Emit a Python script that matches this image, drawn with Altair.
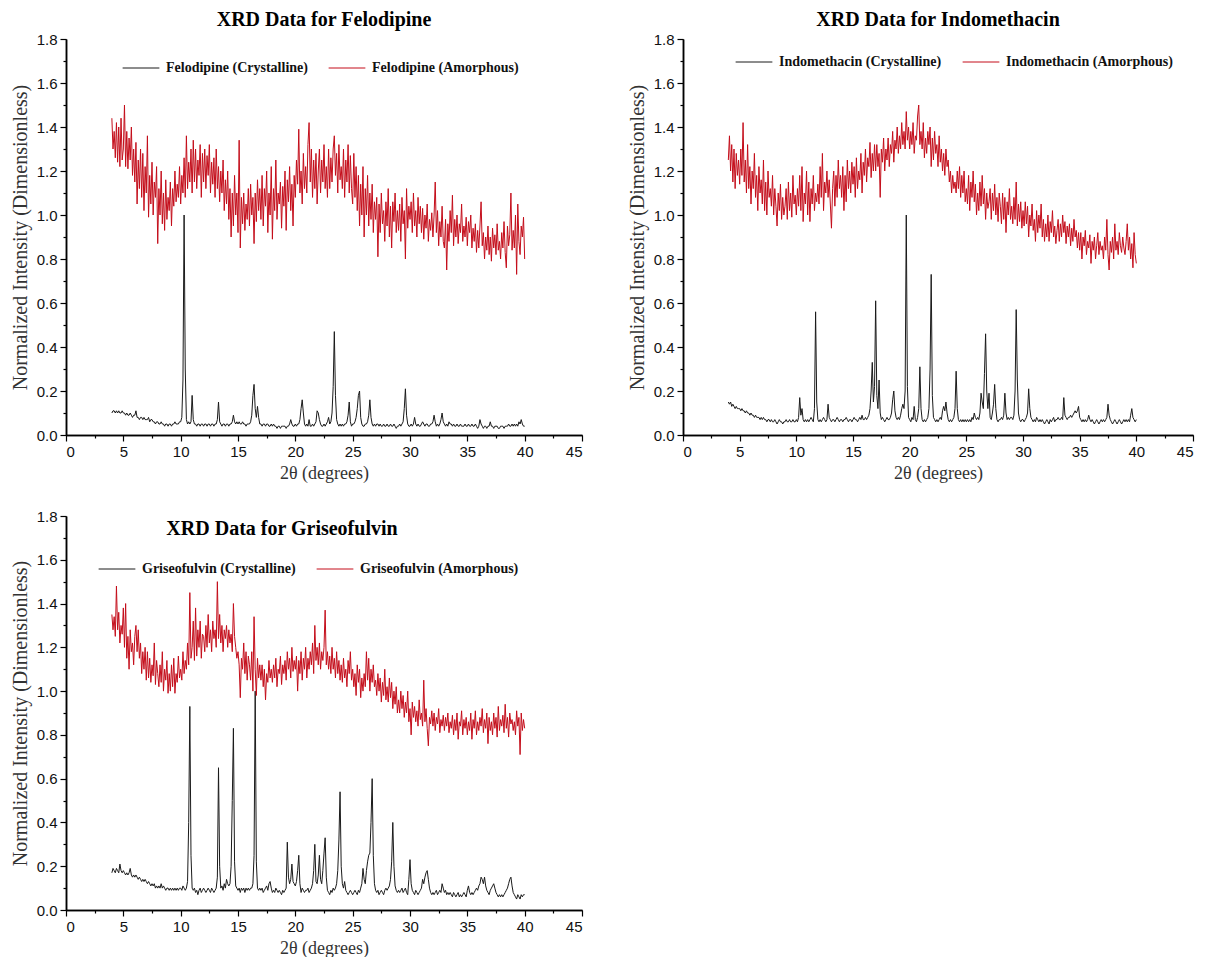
import altair as alt
import pandas as pd

# 2-theta sampling of the digitised patterns: 4.0 .. 40.0 degrees, step 0.1
X_START = 4.0
X_STEP = 0.1

felodipine_cryst = [
    0.10, 0.11, 0.11, 0.10, 0.11, 0.10, 0.11, 0.10, 0.10, 0.11,
    0.10, 0.10, 0.09, 0.10, 0.09, 0.09, 0.10, 0.09, 0.08, 0.09,
    0.09, 0.11, 0.08, 0.08, 0.07, 0.08, 0.08, 0.07, 0.08, 0.07,
    0.07, 0.07, 0.08, 0.06, 0.07, 0.07, 0.06, 0.06, 0.05, 0.06,
    0.06, 0.05, 0.05, 0.06, 0.05, 0.05, 0.04, 0.05, 0.05, 0.04,
    0.05, 0.05, 0.04, 0.05, 0.05, 0.06, 0.05, 0.05, 0.05, 0.06,
    0.06, 0.08, 0.25, 1.00, 0.30, 0.07, 0.05, 0.06, 0.05, 0.06,
    0.18, 0.07, 0.05, 0.05, 0.04, 0.05, 0.05, 0.04, 0.05, 0.05,
    0.04, 0.05, 0.05, 0.04, 0.05, 0.05, 0.04, 0.05, 0.05, 0.04,
    0.05, 0.05, 0.07, 0.15, 0.06, 0.05, 0.04, 0.05, 0.05, 0.04,
    0.05, 0.05, 0.04, 0.05, 0.05, 0.06, 0.09, 0.06, 0.05, 0.06,
    0.05, 0.06, 0.05, 0.05, 0.06, 0.05, 0.05, 0.04, 0.05, 0.05,
    0.05, 0.06, 0.09, 0.18, 0.23, 0.12, 0.08, 0.13, 0.08, 0.05,
    0.05, 0.04, 0.05, 0.05, 0.04, 0.05, 0.05, 0.04, 0.04, 0.05,
    0.04, 0.05, 0.04, 0.04, 0.03, 0.04, 0.04, 0.03, 0.04, 0.04,
    0.04, 0.04, 0.03, 0.04, 0.04, 0.05, 0.07, 0.05, 0.04, 0.04,
    0.05, 0.04, 0.05, 0.05, 0.07, 0.12, 0.16, 0.10, 0.05, 0.04,
    0.05, 0.04, 0.07, 0.04, 0.04, 0.05, 0.04, 0.05, 0.06, 0.11,
    0.10, 0.07, 0.05, 0.04, 0.04, 0.05, 0.04, 0.05, 0.06, 0.08,
    0.05, 0.06, 0.10, 0.22, 0.47, 0.18, 0.07, 0.05, 0.04, 0.05,
    0.04, 0.05, 0.04, 0.05, 0.05, 0.06, 0.09, 0.15, 0.06, 0.04,
    0.05, 0.05, 0.06, 0.08, 0.12, 0.18, 0.20, 0.08, 0.05, 0.04,
    0.04, 0.05, 0.05, 0.06, 0.09, 0.16, 0.08, 0.05, 0.04, 0.05,
    0.04, 0.05, 0.05, 0.04, 0.05, 0.04, 0.04, 0.05, 0.04, 0.04,
    0.05, 0.04, 0.04, 0.05, 0.04, 0.04, 0.05, 0.04, 0.03, 0.04,
    0.04, 0.05, 0.04, 0.05, 0.06, 0.12, 0.21, 0.09, 0.05, 0.04,
    0.04, 0.05, 0.04, 0.05, 0.08, 0.05, 0.04, 0.05, 0.04, 0.04,
    0.05, 0.06, 0.05, 0.04, 0.05, 0.05, 0.04, 0.04, 0.05, 0.05,
    0.06, 0.09, 0.06, 0.04, 0.05, 0.04, 0.05, 0.07, 0.10, 0.06,
    0.05, 0.04, 0.05, 0.04, 0.06, 0.05, 0.05, 0.04, 0.05, 0.04,
    0.04, 0.05, 0.04, 0.04, 0.05, 0.04, 0.04, 0.04, 0.05, 0.04,
    0.04, 0.05, 0.04, 0.04, 0.05, 0.04, 0.04, 0.05, 0.04, 0.03,
    0.04, 0.07, 0.05, 0.04, 0.03, 0.04, 0.04, 0.03, 0.04, 0.04,
    0.06, 0.04, 0.04, 0.03, 0.04, 0.04, 0.04, 0.03, 0.03, 0.04,
    0.04, 0.04, 0.03, 0.04, 0.04, 0.04, 0.05, 0.04, 0.04, 0.05,
    0.04, 0.05, 0.04, 0.05, 0.04, 0.06, 0.05, 0.07, 0.05, 0.04,
    0.04,
]

felodipine_amor = [
    1.44, 1.30, 1.38, 1.26, 1.42, 1.24, 1.40, 1.22, 1.44, 1.25,
    1.30, 1.50, 1.22, 1.38, 1.21, 1.35, 1.25, 1.40, 1.18, 1.30,
    1.15, 1.33, 1.05, 1.25, 1.12, 1.30, 1.08, 1.28, 1.02, 1.22,
    1.10, 1.36, 0.99, 1.18, 1.05, 1.24, 1.00, 1.15, 1.08, 1.22,
    0.87, 1.12, 1.00, 1.20, 0.96, 1.10, 0.93, 1.16, 0.98, 1.08,
    1.02, 1.15, 0.95, 1.12, 1.04, 1.20, 1.06, 1.14, 1.08, 1.22,
    1.05, 1.18, 1.10, 1.26, 1.08, 1.36, 1.12, 1.24, 1.15, 1.30,
    1.10, 1.34, 1.15, 1.30, 1.12, 1.25, 1.18, 1.32, 1.08, 1.28,
    1.15, 1.30, 1.12, 1.27, 1.18, 1.32, 1.10, 1.24, 1.14, 1.26,
    1.08, 1.30, 1.12, 1.22, 1.06, 1.20, 1.10, 1.25, 1.02, 1.16,
    1.05, 1.20, 0.98, 1.12, 0.90, 1.10, 0.95, 1.18, 1.00, 1.10,
    0.92, 1.34, 0.85, 1.08, 0.96, 1.10, 0.93, 1.05, 0.98, 1.12,
    0.95, 1.14, 1.00, 1.08, 0.87, 1.10, 0.97, 1.16, 1.02, 1.12,
    0.98, 1.18, 0.95, 1.12, 1.04, 1.20, 0.92, 1.10, 1.00, 1.22,
    0.89, 1.12, 1.02, 1.25, 0.98, 1.10, 1.05, 1.15, 0.94, 1.13,
    1.04, 1.20, 0.93, 1.16, 1.06, 1.22, 1.02, 1.14, 0.95, 1.18,
    1.08, 1.25, 1.14, 1.39, 1.10, 1.20, 1.05, 1.28, 1.12, 1.22,
    1.10, 1.32, 1.42, 1.15, 1.30, 1.08, 1.25, 1.12, 1.28, 1.05,
    1.20, 1.30, 1.10, 1.25, 1.15, 1.32, 1.12, 1.22, 1.08, 1.30,
    1.12, 1.26, 1.15, 1.30, 1.36, 1.18, 1.28, 1.10, 1.32, 1.16,
    1.22, 1.12, 1.30, 1.08, 1.25, 1.15, 1.32, 1.10, 1.27, 1.12,
    1.05, 1.28, 1.08, 1.22, 1.02, 1.18, 0.95, 1.14, 1.00, 1.22,
    0.90, 1.12, 1.00, 1.18, 0.95, 1.10, 0.98, 1.14, 0.92, 1.06,
    0.98, 1.08, 0.81, 1.05, 0.92, 1.10, 0.96, 1.02, 0.88, 1.06,
    0.95, 1.12, 0.90, 1.04, 0.85, 1.06, 0.97, 1.10, 0.92, 1.02,
    0.93, 1.05, 0.88, 1.08, 0.96, 1.02, 0.80, 1.12, 0.94, 1.04,
    0.98, 1.06, 0.92, 1.10, 0.95, 1.02, 0.90, 1.08, 0.96, 1.04,
    0.92, 1.03, 0.89, 1.00, 0.94, 1.05, 0.88, 0.98, 0.93, 1.01,
    0.90, 1.00, 1.15, 0.92, 1.02, 0.86, 0.97, 0.90, 1.04, 0.88,
    0.85, 0.98, 0.75, 0.96, 0.88, 1.02, 0.92, 1.09, 0.86, 0.98,
    0.90, 1.00, 0.87, 0.96, 0.92, 1.05, 0.88, 0.95, 0.90, 0.99,
    0.86, 0.97, 0.92, 1.00, 0.85, 0.94, 0.88, 0.96, 0.83, 0.93,
    0.85, 0.95, 1.06, 0.86, 0.92, 0.80, 0.90, 0.84, 0.95, 0.82,
    0.90, 0.79, 0.94, 0.85, 0.91, 0.82, 0.96, 0.84, 0.88, 0.80,
    0.92, 0.85, 0.97, 0.83, 0.76, 0.95, 0.86, 0.91, 1.10, 0.84,
    0.93, 0.85, 1.00, 0.73, 1.05, 0.88, 0.82, 0.95, 0.90, 0.99,
    0.80,
]

indomethacin_cryst = [
    0.15, 0.14, 0.15, 0.13, 0.14, 0.13, 0.12, 0.13, 0.12, 0.12,
    0.12, 0.11, 0.12, 0.11, 0.11, 0.10, 0.11, 0.10, 0.10, 0.09,
    0.10, 0.09, 0.09, 0.08, 0.09, 0.08, 0.08, 0.08, 0.07, 0.08,
    0.07, 0.08, 0.07, 0.07, 0.06, 0.07, 0.07, 0.06, 0.07, 0.06,
    0.06, 0.07, 0.06, 0.05, 0.06, 0.07, 0.06, 0.06, 0.05, 0.06,
    0.06, 0.07, 0.06, 0.06, 0.07, 0.06, 0.06, 0.07, 0.06, 0.06,
    0.07, 0.06, 0.08, 0.17, 0.09, 0.12, 0.07, 0.06, 0.07, 0.06,
    0.07, 0.06, 0.07, 0.08, 0.07, 0.06, 0.12, 0.56, 0.15, 0.07,
    0.06, 0.07, 0.06, 0.07, 0.08, 0.07, 0.06, 0.07, 0.14, 0.08,
    0.07, 0.06, 0.07, 0.07, 0.06, 0.07, 0.08, 0.07, 0.06, 0.07,
    0.07, 0.06, 0.07, 0.07, 0.08, 0.07, 0.06, 0.07, 0.07, 0.06,
    0.07, 0.08, 0.07, 0.07, 0.06, 0.07, 0.08, 0.07, 0.09, 0.07,
    0.07, 0.08, 0.07, 0.08, 0.09, 0.12, 0.20, 0.33, 0.15, 0.22,
    0.61, 0.18, 0.12, 0.25, 0.10, 0.07, 0.08, 0.07, 0.06, 0.07,
    0.08, 0.07, 0.07, 0.08, 0.10, 0.16, 0.20, 0.11, 0.08, 0.07,
    0.08, 0.07, 0.09, 0.12, 0.14, 0.12, 0.20, 1.00, 0.22, 0.08,
    0.07, 0.06, 0.08, 0.07, 0.13, 0.07, 0.06, 0.08, 0.12, 0.31,
    0.12, 0.07, 0.06, 0.07, 0.06, 0.07, 0.08, 0.12, 0.30, 0.73,
    0.18, 0.08, 0.07, 0.06, 0.07, 0.06, 0.07, 0.08, 0.07, 0.11,
    0.13, 0.11, 0.15, 0.10, 0.07, 0.06, 0.07, 0.06, 0.07, 0.08,
    0.12, 0.29, 0.12, 0.07, 0.06, 0.07, 0.06, 0.07, 0.06, 0.07,
    0.06, 0.07, 0.06, 0.07, 0.06, 0.08, 0.07, 0.10, 0.08, 0.07,
    0.08, 0.07, 0.10, 0.19, 0.15, 0.12, 0.28, 0.46, 0.20, 0.12,
    0.19, 0.08, 0.07, 0.10, 0.14, 0.23, 0.12, 0.07, 0.06, 0.07,
    0.07, 0.08, 0.07, 0.09, 0.19, 0.10, 0.07, 0.08, 0.07, 0.08,
    0.08, 0.07, 0.09, 0.20, 0.57, 0.25, 0.10, 0.07, 0.06, 0.07,
    0.07, 0.06, 0.07, 0.08, 0.10, 0.21, 0.12, 0.08, 0.07, 0.06,
    0.07, 0.06, 0.08, 0.07, 0.06, 0.07, 0.06, 0.07, 0.06, 0.05,
    0.06, 0.07, 0.06, 0.05, 0.07, 0.06, 0.07, 0.08, 0.06, 0.07,
    0.07, 0.08, 0.07, 0.07, 0.08, 0.07, 0.17, 0.09, 0.08, 0.07,
    0.08, 0.08, 0.09, 0.08, 0.09, 0.10, 0.11, 0.10, 0.11, 0.13,
    0.08, 0.07, 0.06, 0.07, 0.06, 0.07, 0.06, 0.07, 0.09, 0.07,
    0.06, 0.07, 0.06, 0.05, 0.06, 0.07, 0.06, 0.05, 0.06, 0.07,
    0.06, 0.07, 0.06, 0.07, 0.08, 0.14, 0.09, 0.07, 0.06, 0.05,
    0.06, 0.07, 0.06, 0.05, 0.06, 0.07, 0.06, 0.05, 0.06, 0.07,
    0.06, 0.07, 0.06, 0.07, 0.06, 0.09, 0.12, 0.08, 0.07, 0.06,
    0.07,
]

indomethacin_amor = [
    1.25, 1.36, 1.20, 1.32, 1.15, 1.30, 1.12, 1.28, 1.18, 1.25,
    1.14, 1.30, 1.18, 1.42, 1.15, 1.25, 1.10, 1.32, 1.12, 1.22,
    1.05, 1.20, 1.12, 1.28, 1.08, 1.18, 1.02, 1.22, 1.10, 1.16,
    1.05, 1.25, 1.02, 1.15, 1.00, 1.20, 1.08, 1.12, 1.04, 1.18,
    1.00, 1.12, 1.04, 0.95, 1.10, 1.02, 1.14, 0.98, 1.08, 1.00,
    1.04, 1.12, 0.98, 1.15, 1.02, 1.10, 0.99, 1.18, 1.05, 1.09,
    1.00, 1.12, 1.04, 1.18, 1.02, 1.22, 0.97, 1.10, 1.05, 1.20,
    1.00, 1.15, 0.97, 1.12, 1.05, 1.18, 1.02, 1.10, 1.06, 1.14,
    1.05, 1.22, 1.08, 1.28, 1.02, 1.15, 1.10, 1.20, 1.08, 1.16,
    1.05, 0.94, 1.12, 1.20, 1.04, 1.18, 1.08, 1.25, 1.12, 1.18,
    1.08, 1.22, 1.02, 1.18, 1.06, 1.25, 1.12, 1.20, 1.10, 1.24,
    1.14, 1.22, 1.08, 1.26, 1.12, 1.20, 1.16, 1.28, 1.10, 1.24,
    1.18, 1.30, 1.15, 1.26, 1.22, 1.33, 1.17, 1.28, 1.20, 1.32,
    1.20, 1.32, 1.22, 1.28, 1.08, 1.30, 1.24, 1.35, 1.20, 1.30,
    1.25, 1.35, 1.22, 1.32, 1.28, 1.38, 1.24, 1.34, 1.30, 1.40,
    1.28, 1.36, 1.30, 1.42, 1.32, 1.38, 1.30, 1.47, 1.34, 1.40,
    1.30, 1.38, 1.32, 1.42, 1.28, 1.36, 1.34, 1.45, 1.50, 1.32,
    1.38, 1.30, 1.42, 1.26, 1.35, 1.28, 1.38, 1.32, 1.40, 1.22,
    1.35, 1.25, 1.38, 1.28, 1.32, 1.22, 1.36, 1.24, 1.30, 1.20,
    1.28, 1.18, 1.30, 1.22, 1.25, 1.15, 1.20, 1.10, 1.18, 1.12,
    1.15, 1.10, 1.20, 1.12, 1.22, 1.08, 1.18, 1.10, 1.20, 1.06,
    1.12, 1.05, 1.18, 1.02, 1.15, 1.08, 1.20, 1.06, 1.14, 1.00,
    1.10, 1.02, 1.15, 1.04, 1.18, 1.05, 1.12, 0.98, 1.10, 1.03,
    1.06, 1.12, 0.98, 1.10, 1.02, 1.14, 1.00, 1.08, 0.97, 1.10,
    1.04, 0.96, 1.10, 0.98, 1.08, 0.92, 1.06, 1.00, 1.12, 0.98,
    1.04, 0.96, 1.08, 0.98, 1.15, 0.95, 1.05, 0.97, 1.06, 0.94,
    1.02, 0.95, 1.06, 0.96, 1.04, 0.90, 1.00, 0.95, 1.05, 0.93,
    0.98, 0.88, 1.02, 0.92, 1.00, 0.94, 1.05, 0.90, 0.98, 0.88,
    0.96, 0.90, 1.00, 0.88, 0.97, 0.92, 1.02, 0.90, 0.95, 0.87,
    0.93, 0.98, 0.88, 0.96, 0.90, 1.00, 0.92, 0.97, 0.87, 0.95,
    0.90, 0.96, 0.86, 0.94, 0.88, 0.98, 0.90, 0.93, 0.85, 0.92,
    0.84, 0.92, 0.80, 0.90, 0.86, 0.93, 0.82, 0.88, 0.85, 0.91,
    0.78, 0.88, 0.84, 0.90, 0.80, 0.86, 0.92, 0.82, 0.88, 0.84,
    0.86, 0.80, 0.90, 0.84, 0.98, 0.82, 0.75, 0.88, 0.83, 0.90,
    0.80, 0.96, 0.84, 0.88, 0.82, 0.92, 0.86, 0.83, 0.90, 0.85,
    0.82, 0.88, 0.96, 0.84, 0.90, 0.80, 0.87, 0.76, 0.92, 0.82,
    0.78,
]

griseofulvin_cryst = [
    0.17, 0.19, 0.18, 0.17, 0.19, 0.18, 0.17, 0.21, 0.18, 0.17,
    0.18, 0.17, 0.16, 0.17, 0.16, 0.17, 0.19, 0.16, 0.15, 0.16,
    0.15, 0.16, 0.15, 0.14, 0.15, 0.14, 0.13, 0.14, 0.13, 0.14,
    0.13, 0.12, 0.13, 0.12, 0.11, 0.12, 0.11, 0.12, 0.10, 0.11,
    0.10, 0.11, 0.10, 0.12, 0.10, 0.11, 0.10, 0.09, 0.10, 0.10,
    0.09, 0.10, 0.09, 0.10, 0.09, 0.10, 0.09, 0.10, 0.09, 0.10,
    0.10, 0.09, 0.11, 0.10, 0.09, 0.10, 0.13, 0.40, 0.93, 0.25,
    0.10, 0.09, 0.10, 0.08, 0.09, 0.07, 0.09, 0.10, 0.08, 0.09,
    0.10, 0.09, 0.08, 0.09, 0.10, 0.09, 0.08, 0.10, 0.09, 0.08,
    0.09, 0.10, 0.15, 0.65, 0.20, 0.10, 0.11, 0.09, 0.12, 0.10,
    0.14, 0.12, 0.11, 0.12, 0.20, 0.50, 0.83, 0.22, 0.11, 0.10,
    0.09, 0.10, 0.08, 0.10, 0.09, 0.10, 0.08, 0.10, 0.09, 0.10,
    0.09, 0.10, 0.10, 0.12, 0.25, 1.00, 0.22, 0.10, 0.09, 0.10,
    0.09, 0.10, 0.08, 0.09, 0.10, 0.11, 0.09, 0.12, 0.13, 0.10,
    0.08, 0.09, 0.08, 0.10, 0.09, 0.08, 0.09, 0.08, 0.07, 0.09,
    0.08, 0.09, 0.10, 0.31, 0.15, 0.12, 0.14, 0.21, 0.13, 0.12,
    0.11, 0.13, 0.18, 0.25, 0.12, 0.08, 0.10, 0.09, 0.08, 0.09,
    0.09, 0.10, 0.08, 0.09, 0.10, 0.12, 0.18, 0.30, 0.13, 0.12,
    0.16, 0.25, 0.14, 0.12, 0.18, 0.26, 0.33, 0.15, 0.09, 0.08,
    0.07, 0.09, 0.08, 0.10, 0.09, 0.10, 0.12, 0.18, 0.32, 0.54,
    0.20, 0.12, 0.10, 0.13, 0.09, 0.08, 0.07, 0.08, 0.09, 0.08,
    0.07, 0.08, 0.09, 0.08, 0.07, 0.09, 0.08, 0.10, 0.12, 0.19,
    0.14, 0.12, 0.18, 0.22, 0.25, 0.26, 0.40, 0.60, 0.25, 0.12,
    0.09, 0.08, 0.09, 0.07, 0.08, 0.09, 0.08, 0.07, 0.09, 0.10,
    0.09, 0.10, 0.11, 0.14, 0.22, 0.40, 0.20, 0.11, 0.09, 0.08,
    0.09, 0.08, 0.09, 0.10, 0.08, 0.09, 0.10, 0.08, 0.07, 0.14,
    0.23, 0.12, 0.09, 0.08, 0.07, 0.09, 0.08, 0.07, 0.08, 0.09,
    0.10, 0.14, 0.12, 0.15, 0.17, 0.18, 0.14, 0.10, 0.08, 0.07,
    0.08, 0.07, 0.08, 0.09, 0.07, 0.08, 0.09, 0.08, 0.12, 0.10,
    0.08, 0.09, 0.07, 0.08, 0.07, 0.08, 0.07, 0.06, 0.08, 0.07,
    0.06, 0.07, 0.08, 0.06, 0.07, 0.06, 0.07, 0.08, 0.07, 0.06,
    0.09, 0.11, 0.08, 0.07, 0.08, 0.07, 0.08, 0.09, 0.10, 0.09,
    0.11, 0.12, 0.15, 0.14, 0.12, 0.15, 0.11, 0.09, 0.08, 0.07,
    0.09, 0.10, 0.11, 0.12, 0.10, 0.08, 0.07, 0.06, 0.07, 0.06,
    0.07, 0.06, 0.07, 0.08, 0.09, 0.10, 0.12, 0.14, 0.15, 0.11,
    0.08, 0.07, 0.06, 0.05, 0.07, 0.06, 0.05, 0.07, 0.06, 0.07,
    0.07,
]

griseofulvin_amor = [
    1.35, 1.28, 1.34, 1.25, 1.48, 1.28, 1.36, 1.22, 1.30, 1.26,
    1.38, 1.20, 1.40, 1.15, 1.25, 1.10, 1.28, 1.18, 1.22, 1.12,
    1.25, 1.30, 1.18, 1.28, 1.15, 1.22, 1.08, 1.18, 1.10, 1.20,
    1.05, 1.18, 1.06, 1.15, 1.04, 1.12, 1.07, 1.22, 1.03, 1.14,
    1.08, 1.02, 1.12, 1.04, 1.18, 1.00, 1.10, 1.05, 1.14, 0.99,
    1.08, 1.00, 1.12, 1.02, 1.15, 0.99, 1.08, 1.04, 1.16, 1.06,
    1.10, 1.05, 1.18, 1.08, 1.14, 1.10, 1.22, 1.12, 1.45, 1.15,
    1.20, 1.32, 1.14, 1.38, 1.16, 1.28, 1.20, 1.32, 1.15, 1.26,
    1.25, 1.18, 1.30, 1.20, 1.35, 1.22, 1.28, 1.18, 1.32, 1.24,
    1.28, 1.20, 1.50, 1.24, 1.35, 1.22, 1.30, 1.18, 1.28, 1.24,
    1.30, 1.20, 1.28, 1.22, 1.26, 1.18, 1.40, 1.25, 1.20, 1.15,
    1.18, 1.12, 0.97, 1.15, 1.10, 1.22, 1.08, 1.18, 1.05, 1.16,
    1.12, 1.05, 1.18, 1.00, 1.34, 1.10, 0.98, 1.15, 1.06, 1.12,
    1.05, 1.12, 1.02, 1.10, 0.96, 1.08, 1.04, 1.14, 1.06, 1.10,
    1.04, 1.12, 1.06, 1.15, 1.02, 1.10, 1.08, 1.16, 1.03, 1.12,
    1.08, 1.14, 1.05, 1.18, 1.10, 1.15, 1.06, 1.20, 1.09, 1.14,
    1.10, 1.16, 1.00, 1.14, 1.08, 1.18, 1.05, 1.15, 1.10, 1.20,
    1.06, 1.15, 1.10, 1.18, 1.12, 1.22, 1.08, 1.30, 1.14, 1.20,
    1.12, 1.22, 1.10, 1.18, 1.14, 1.20, 1.37, 1.12, 1.18, 1.10,
    1.16, 1.08, 1.20, 1.10, 1.15, 1.06, 1.18, 1.08, 1.14, 1.05,
    1.12, 1.04, 1.15, 1.06, 1.10, 1.02, 1.14, 1.08, 1.18, 1.05,
    1.10, 1.02, 1.08, 0.98, 1.12, 1.04, 1.10, 0.97, 1.06, 1.00,
    1.08, 1.02, 1.18, 1.05, 1.15, 1.00, 1.10, 1.04, 1.12, 1.02,
    1.05, 0.98, 1.08, 1.00, 1.06, 0.95, 1.04, 0.98, 1.10, 0.96,
    1.02, 0.95, 1.06, 0.97, 1.04, 0.92, 1.00, 0.94, 1.02, 0.90,
    0.96, 0.90, 1.00, 0.92, 0.98, 0.88, 0.95, 0.90, 1.00, 0.86,
    0.92, 0.80, 0.95, 0.88, 0.93, 0.86, 0.91, 0.84, 0.96, 0.87,
    0.90, 0.84, 1.05, 0.86, 0.92, 0.83, 0.75, 0.88, 0.85, 0.91,
    0.84, 0.90, 0.82, 0.88, 0.85, 0.92, 0.81, 0.87, 0.84, 0.89,
    0.82, 0.88, 0.84, 0.90, 0.81, 0.86, 0.83, 0.89, 0.80, 0.87,
    0.82, 0.90, 0.78, 0.86, 0.84, 0.91, 0.80, 0.87, 0.83, 0.88,
    0.80, 0.86, 0.82, 0.90, 0.78, 0.87, 0.83, 0.91, 0.80, 0.86,
    0.82, 0.88, 0.84, 0.92, 0.81, 0.87, 0.83, 0.90, 0.76, 0.88,
    0.82, 0.86, 0.80, 0.90, 0.83, 0.88, 0.79, 0.93, 0.82, 0.87,
    0.84, 0.89, 0.81, 0.94, 0.83, 0.88, 0.79, 0.90, 0.85, 0.87,
    0.82, 0.86, 0.80, 0.91, 0.84, 0.88, 0.71, 0.90, 0.82, 0.87,
    0.83,
]

X_MAJOR = [0, 5, 10, 15, 20, 25, 30, 35, 40, 45]
X_MINOR = [2.5, 7.5, 12.5, 17.5, 22.5, 27.5, 32.5, 37.5, 42.5]
Y_MAJOR = [0.0, 0.2, 0.4, 0.6, 0.8, 1.0, 1.2, 1.4, 1.6, 1.8]
Y_MINOR = [0.1, 0.3, 0.5, 0.7, 0.9, 1.1, 1.3, 1.5, 1.7]

SERIF = "Liberation Serif"
SANS = "Liberation Sans"
BLACK = "#1a1a1a"
RED = "#c40d1a"


def axis(orient, title, values, major):
    common = dict(
        orient=orient,
        values=values,
        grid=False,
        domainColor="#000",
        domainWidth=1.5,
        tickColor="#000",
        tickWidth=1.2,
    )
    if major:
        is_y = orient == "left"
        return alt.Axis(
            title=title,
            format=".1f" if is_y else "d",
            labelFont=SANS,
            labelFontSize=15,
            labelColor="#111",
            labelPadding=3,
            tickSize=6,
            titleFont=SERIF,
            titleFontSize=20 if is_y else 18,
            titleFontWeight="normal",
            titleColor="#333",
            titlePadding=6 if is_y else 5,
            labelOverlap=False,
            **common,
        )
    return alt.Axis(title=None, labels=False, tickSize=3, **common)


def panel(name, cryst, amor, width, height, title_params, legend_x, legend_y):
    assert len(cryst) == len(amor)
    xs = [round(X_START + i * X_STEP, 2) for i in range(len(cryst))]
    c_lab = f"{name} (Crystalline)"
    a_lab = f"{name} (Amorphous)"
    df = pd.DataFrame(
        {
            "x": xs + xs,
            "y": cryst + amor,
            "series": [c_lab] * len(xs) + [a_lab] * len(xs),
        }
    )
    xscale = alt.Scale(domain=[0, 45], nice=False, zero=False)
    yscale = alt.Scale(domain=[0, 1.8], nice=False)
    lines = (
        alt.Chart(df)
        .mark_line(strokeWidth=1)
        .encode(
            x=alt.X("x:Q", scale=xscale, axis=axis("bottom", "2θ (degrees)", X_MAJOR, True)),
            y=alt.Y(
                "y:Q",
                scale=yscale,
                axis=axis("left", "Normalized Intensity (Dimensionless)", Y_MAJOR, True),
            ),
            color=alt.Color(
                "series:N",
                scale=alt.Scale(domain=[c_lab, a_lab], range=[BLACK, RED]),
                legend=alt.Legend(
                    title=None,
                    orient="none",
                    legendX=legend_x,
                    legendY=legend_y,
                    direction="horizontal",
                    symbolType="stroke",
                    symbolSize=1350,
                    symbolStrokeWidth=1,
                    labelFont=SERIF,
                    labelFontWeight="bold",
                    labelFontSize=14,
                    labelColor="#111",
                    labelLimit=400,
                    columnPadding=18,
                    labelOffset=6,
                ),
            ),
        )
    )
    minor = (
        alt.Chart(df.iloc[:2])
        .mark_point(opacity=0)
        .encode(
            x=alt.X("x:Q", scale=xscale, axis=axis("bottom", None, X_MINOR, False)),
            y=alt.Y("y:Q", scale=yscale, axis=axis("left", None, Y_MINOR, False)),
        )
    )
    return (
        alt.layer(lines, minor)
        .resolve_axis(x="independent", y="independent")
        .properties(width=width, height=height, title=title_params)
    )


def title(text, dx=0, dy=0):
    return alt.TitleParams(
        text=text,
        font=SERIF,
        fontSize=20,
        fontWeight="bold",
        color="#000",
        anchor="middle",
        offset=2,
        dx=dx,
        dy=dy,
    )


p1 = panel("Felodipine", felodipine_cryst, felodipine_amor, 516, 396,
           title("XRD Data for Felodipine"), 56, 10)
p2 = panel("Indomethacin", indomethacin_cryst, indomethacin_amor, 510, 396,
           title("XRD Data for Indomethacin"), 52, 4)
p3 = panel("Griseofulvin", griseofulvin_cryst, griseofulvin_amor, 516, 394,
           title("XRD Data for Griseofulvin", dx=-42, dy=32), 32, 34)

top = alt.hconcat(p1, p2, spacing=44).resolve_scale(color="independent").resolve_legend(color="independent")
chart = (
    alt.vconcat(top, p3, spacing=27)
    .resolve_scale(color="independent")
    .resolve_legend(color="independent")
    .properties(padding={"left": 2, "top": 2, "right": 2, "bottom": 0}, background="white")
    .configure_view(stroke=None)
)

chart.save("out.html", embed_options={"renderer": "svg", "actions": False})
